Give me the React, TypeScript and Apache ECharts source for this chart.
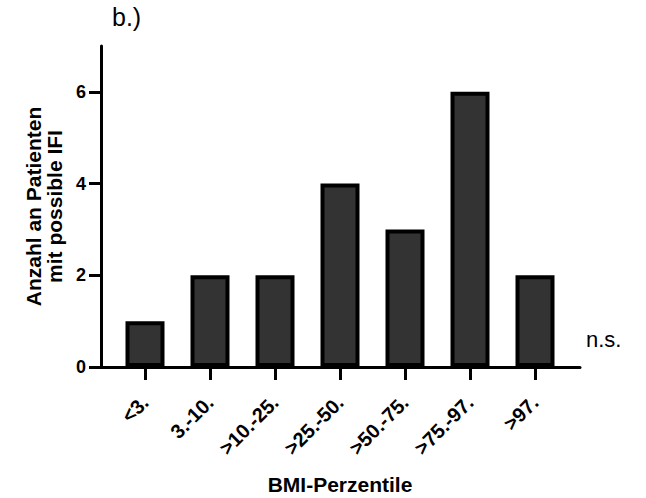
import React, { useEffect, useRef } from "react";
import * as echarts from "echarts";

// BMI percentile groups and number of patients with possible IFI
const categories: string[] = ["<3.", "3.-10.", ">10.-25.", ">25.-50.", ">50.-75.", ">75.-97.", ">97."];
const patientCounts: number[] = [1, 2, 2, 4, 3, 6, 2];
const yTickValues: number[] = [0, 2, 4, 6];
const yMax = 7;

const FONT = "'Liberation Sans', Arial, Helvetica, sans-serif";

export default function App() {
  const ref = useRef<HTMLDivElement>(null);

  useEffect(() => {
    if (!ref.current) return;
    const chart = echarts.init(ref.current, undefined, { renderer: "svg" });

    const top = 46;
    const bottom = 131;

    chart.setOption({
      animation: false,
      backgroundColor: "#ffffff",
      grid: [
        // bars
        { left: 112.5, right: 78.5, top, bottom, containLabel: false, outerBoundsMode: "none" },
        // framing axes (left axis and baseline)
        { left: 101, right: 66, top, bottom, containLabel: false, outerBoundsMode: "none" },
      ],
      xAxis: [
        {
          type: "category",
          gridIndex: 0,
          data: categories,
          axisLine: { show: false },
          axisTick: {
            show: true,
            alignWithLabel: true,
            length: 13,
            lineStyle: { color: "#000", width: 3 },
          },
          axisLabel: {
            rotate: 45,
            margin: 32,
            interval: 0,
            color: "#000",
            fontFamily: FONT,
            fontWeight: "bold",
            fontSize: 20,
          },
          name: "BMI-Perzentile",
          nameLocation: "middle",
          nameGap: 107,
          nameTextStyle: {
            color: "#000",
            fontFamily: FONT,
            fontWeight: "bold",
            fontSize: 21,
            lineHeight: 20,
          },
        },
        {
          type: "value",
          gridIndex: 1,
          min: 0,
          max: 1,
          axisLine: { show: true, lineStyle: { color: "#000", width: 3 } },
          axisTick: { show: false },
          axisLabel: { show: false },
          splitLine: { show: false },
        },
      ],
      yAxis: [
        {
          type: "value",
          gridIndex: 0,
          min: 0,
          max: yMax,
          show: false,
          splitLine: { show: false },
        },
        {
          type: "value",
          gridIndex: 1,
          min: 0,
          max: yMax,
          axisLine: { show: true, lineStyle: { color: "#000", width: 3 } },
          axisTick: {
            show: true,
            length: 12,
            customValues: yTickValues,
            lineStyle: { color: "#000", width: 3 },
          },
          axisLabel: {
            customValues: yTickValues,
            margin: 15,
            color: "#000",
            fontFamily: FONT,
            fontWeight: "bold",
            fontSize: 18,
          },
          splitLine: { show: false },
          name: "Anzahl an Patienten\nmit possible IFI",
          nameLocation: "middle",
          nameGap: 32,
          nameTextStyle: {
            color: "#000",
            fontFamily: FONT,
            fontWeight: "bold",
            fontSize: 21,
            lineHeight: 21,
            align: "center",
          },
        },
      ],
      series: [
        {
          type: "bar",
          xAxisIndex: 0,
          yAxisIndex: 0,
          data: patientCounts,
          barWidth: 39,
          itemStyle: {
            color: "#333333",
            borderColor: "#000000",
            borderWidth: 4,
          },
        },
      ],
      graphic: [
        {
          type: "text",
          left: 112,
          top: 4,
          style: {
            text: "b.)",
            fill: "#000",
            font: `25px ${FONT}`,
          },
        },
        {
          type: "text",
          left: 586,
          top: 328,
          style: {
            text: "n.s.",
            fill: "#000",
            font: `22px ${FONT}`,
          },
        },
      ],
    });

    return () => chart.dispose();
  }, []);

  return (
    <div
      ref={ref}
      style={{ position: "fixed", left: 0, top: 0, width: 646, height: 498, background: "#fff" }}
    />
  );
}
